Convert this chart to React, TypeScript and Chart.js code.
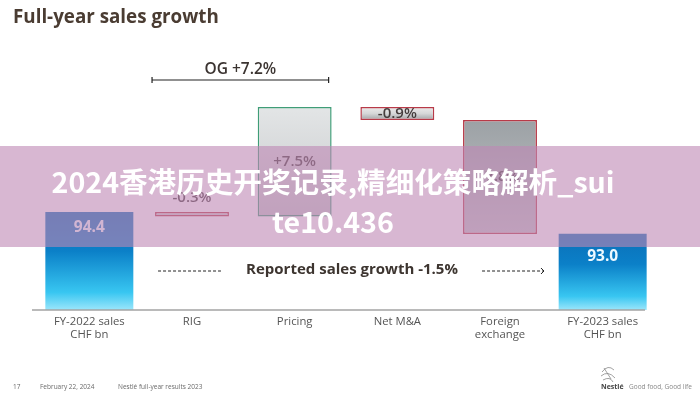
import { useEffect, useRef } from "react";
import { Chart, registerables } from "chart.js";

Chart.register(...registerables);

// ---- data ----
const categories: (string | string[])[] = [
  ["FY-2022 sales", "CHF bn"],
  "RIG",
  "Pricing",
  "Net M&A",
  ["Foreign", "exchange"],
  ["FY-2023 sales", "CHF bn"],
];
const startSales = 94.4;
const endSales = 93.0;
const stepPct = [-0.3, 7.5, -0.9, -7.8];
const stepLabels = ["-0.3%", "+7.5%", "-0.9%", "-7.8%"];
const totalLabels = ["94.4", "93.0"];
const axisMin = 88.06;
const axisMax = 105.53;
const titleText = "Full-year sales growth";
const ogLabel = "OG +7.2%";
const reportedLabel = "Reported sales growth -1.5%";
const footerItems = ["17", "February 22, 2024", "Nestlé full-year results 2023"];
const bannerLines = ["2024香港历史开奖记录,精细化策略解析_sui", "te10.436"];

// cumulative levels (bn)
const levels: number[] = [startSales];
{
  let cum = 0;
  for (const p of stepPct) {
    cum += p;
    levels.push(startSales * (1 + cum / 100));
  }
}
const totalsData: ([number, number] | null)[] = [
  [axisMin, startSales],
  null,
  null,
  null,
  null,
  [axisMin, endSales],
];
const stepsData: ([number, number] | null)[] = [
  null,
  ...stepPct.map((_, i) => [levels[i], levels[i + 1]] as [number, number]),
  null,
];

function totalsBg(c: any) {
  const chart = c.chart;
  const raw = c.raw;
  if (!chart.chartArea || !raw) return "#0a78c4";
  const ys = chart.scales.y;
  const top = ys.getPixelForValue(raw[1]);
  const bot = ys.getPixelForValue(raw[0]);
  const g = chart.ctx.createLinearGradient(0, top, 0, bot);
  g.addColorStop(0, "#0a6fb8");
  g.addColorStop(0.4, "#0b80c8");
  g.addColorStop(0.82, "#38c6f1");
  g.addColorStop(1, "#9be6fb");
  return g;
}

function stepsBg(c: any) {
  const chart = c.chart;
  const raw = c.raw;
  if (!chart.chartArea || !raw) return "#cfd2d4";
  const ys = chart.scales.y;
  const top = ys.getPixelForValue(Math.max(raw[0], raw[1]));
  const bot = ys.getPixelForValue(Math.min(raw[0], raw[1]));
  const g = chart.ctx.createLinearGradient(0, top, 0, bot);
  const pos = raw[1] > raw[0];
  if (pos) {
    g.addColorStop(0, "#e3e5e6");
    g.addColorStop(1, "#c6c9cb");
  } else if (bot - top < 30) {
    g.addColorStop(0, "#ececec");
    g.addColorStop(0.5, "#d6d7d8");
    g.addColorStop(1, "#9fa2a5");
  } else {
    g.addColorStop(0, "#9ca1a5");
    g.addColorStop(1, "#c3c6c9");
  }
  return g;
}

const annotPlugin = {
  id: "annot",
  afterDatasetsDraw(chart: any) {
    const ctx = chart.ctx as CanvasRenderingContext2D;
    const xs = chart.scales.x;
    const ys = chart.scales.y;
    const totals = chart.getDatasetMeta(0).data;
    const steps = chart.getDatasetMeta(1).data;
    ctx.save();

    // title
    ctx.fillStyle = "#4a3c32";
    ctx.font = "bold 18.8px 'Open Sans'";
    ctx.textAlign = "left";
    ctx.textBaseline = "alphabetic";
    ctx.fillText(titleText, 13, 23);

    // base line
    const baseY = ys.getPixelForValue(axisMin);
    ctx.strokeStyle = "#a3a3a3";
    ctx.lineWidth = 1.5;
    ctx.beginPath();
    ctx.moveTo(32, baseY);
    ctx.lineTo(645, baseY);
    ctx.stroke();

    // total labels
    const totalIdx = [0, 5];
    const offs = [16, 23];
    ctx.font = "bold 15.5px 'Open Sans'";
    ctx.textAlign = "center";
    ctx.textBaseline = "middle";
    totalIdx.forEach((idx, k) => {
      const el = totals[idx];
      ctx.fillStyle = "#eef9ff";
      ctx.fillText(totalLabels[k], el.x, el.y + offs[k]);
    });

    // step labels
    ctx.font = "600 15px 'Open Sans'";
    stepLabels.forEach((lab, i) => {
      const el = steps[i + 1];
      const top = Math.min(el.y, el.base);
      const bot = Math.max(el.y, el.base);
      ctx.fillStyle = "#453e3e";
      if (bot - top < 10) ctx.fillText(lab, el.x, top - 14);
      else ctx.fillText(lab, el.x, (top + bot) / 2);
    });

    // OG bracket
    const rig = steps[1];
    const pr = steps[2];
    const bx1 = rig.x - rig.width / 2 - 3;
    const bx2 = pr.x + pr.width / 2 - 3;
    const by = 80;
    ctx.strokeStyle = "#222";
    ctx.lineWidth = 1.2;
    ctx.beginPath();
    ctx.moveTo(bx1, by);
    ctx.lineTo(bx2, by);
    ctx.moveTo(bx1, by - 3);
    ctx.lineTo(bx1, by + 3);
    ctx.moveTo(bx2, by - 3);
    ctx.lineTo(bx2, by + 3);
    ctx.stroke();
    ctx.fillStyle = "#3b3431";
    ctx.font = "600 15.5px 'Open Sans'";
    ctx.fillText(ogLabel, (bx1 + bx2) / 2, 70);

    // reported growth
    const ry = 270;
    const rx = (xs.getPixelForValue(2) + xs.getPixelForValue(3)) / 2 + 6;
    ctx.font = "bold 15px 'Open Sans'";
    ctx.fillStyle = "#3d3530";
    ctx.fillText(reportedLabel, rx, ry);
    ctx.setLineDash([3, 2]);
    ctx.lineWidth = 1;
    ctx.strokeStyle = "#222";
    const lx1 = rig.x - rig.width / 2 + 3;
    const lx2 = rig.x + rig.width / 2 - 8;
    ctx.beginPath();
    ctx.moveTo(lx1, ry + 1);
    ctx.lineTo(lx2, ry + 1);
    ctx.stroke();
    const fx = steps[4];
    const ax1 = fx.x - fx.width / 2 + 19;
    const ax2 = fx.x + fx.width / 2 + 7;
    ctx.beginPath();
    ctx.moveTo(ax1, ry + 1);
    ctx.lineTo(ax2, ry + 1);
    ctx.stroke();
    ctx.setLineDash([]);
    ctx.beginPath();
    ctx.moveTo(ax2 - 3, ry - 2);
    ctx.lineTo(ax2, ry + 1);
    ctx.lineTo(ax2 - 3, ry + 4);
    ctx.stroke();

    // footer
    ctx.font = "6.5px 'Open Sans'";
    ctx.fillStyle = "#6a6a6a";
    ctx.textAlign = "left";
    const fxs = [13, 40, 118];
    footerItems.forEach((t, i) => ctx.fillText(t, fxs[i], 387));

    // logo
    ctx.strokeStyle = "#8a8a8a";
    ctx.lineWidth = 0.8;
    ctx.beginPath();
    ctx.moveTo(602, 372);
    ctx.quadraticCurveTo(608, 364, 614, 370);
    ctx.moveTo(601, 376);
    ctx.quadraticCurveTo(608, 370, 615, 378);
    ctx.moveTo(603, 380);
    ctx.quadraticCurveTo(610, 376, 613, 382);
    ctx.moveTo(604, 368);
    ctx.lineTo(611, 379);
    ctx.stroke();
    ctx.fillStyle = "#444";
    ctx.font = "bold 7px 'Open Sans'";
    ctx.fillText("Nestlé", 601, 387);
    ctx.fillStyle = "#888";
    ctx.font = "6.5px 'Open Sans'";
    ctx.fillText("Good food, Good life", 629, 387);

    ctx.restore();
  },
};

export default function App() {
  const ref = useRef<HTMLCanvasElement | null>(null);
  useEffect(() => {
    if (!ref.current) return;
    const chart = new Chart(ref.current, {
      type: "bar",
      data: {
        labels: categories as any,
        datasets: [
          {
            data: totalsData as any,
            backgroundColor: totalsBg as any,
            borderWidth: 0,
            barPercentage: 0.857,
            categoryPercentage: 1,
            grouped: false,
          },
          {
            data: stepsData as any,
            backgroundColor: stepsBg as any,
            borderColor: (c: any) =>
              c.raw && c.raw[1] > c.raw[0] ? "#3f9d77" : "#b83a48",
            borderWidth: 1.5,
            borderSkipped: false,
            barPercentage: 0.72,
            categoryPercentage: 1,
            grouped: false,
          },
        ],
      },
      options: {
        responsive: false,
        animation: false,
        layout: { padding: { left: 38, right: 46, top: 40, bottom: 0 } },
        plugins: {
          legend: { display: false },
          tooltip: { enabled: false },
          title: { display: false },
        },
        scales: {
          y: { display: false, min: axisMin, max: axisMax },
          x: {
            grid: { display: false, drawTicks: false },
            border: { display: false },
            ticks: {
              padding: 5,
              maxRotation: 0,
              autoSkip: false,
              color: "#555",
              font: { family: "'Open Sans'", size: 11.3, lineHeight: 1.17 },
            },
            afterFit: (axis: any) => {
              axis.height = 84;
            },
          },
        },
      },
      plugins: [annotPlugin],
    });
    return () => chart.destroy();
  }, []);

  return (
    <div
      style={{
        position: "fixed",
        left: 0,
        top: 0,
        width: 700,
        height: 394,
        background: "#ffffff",
        overflow: "hidden",
      }}
    >
      <canvas ref={ref} width={700} height={394} style={{ display: "block" }} />
      <div
        style={{
          position: "absolute",
          left: 0,
          top: 146,
          width: 700,
          height: 101,
          background: "rgba(190,135,180,0.6)",
        }}
      />
      <div
        style={{
          position: "absolute",
          left: 0,
          top: 161,
          width: 666,
          textAlign: "center",
          color: "#ffffff",
          fontFamily: "'Noto Sans CJK SC', sans-serif",
          fontWeight: 700,
          fontSize: 28.6,
          lineHeight: "40px",
          whiteSpace: "nowrap",
        }}
      >
        {bannerLines[0]}
        <br />
        {bannerLines[1]}
      </div>
    </div>
  );
}
